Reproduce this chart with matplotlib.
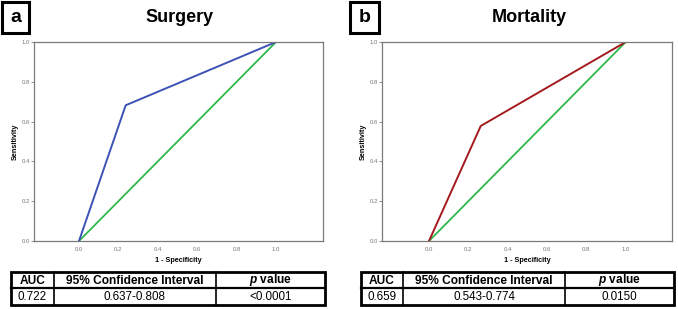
import matplotlib
matplotlib.use("Agg")
import matplotlib.pyplot as plt
from matplotlib.patches import Rectangle

plt.rcParams['font.family'] = ['Liberation Sans', 'DejaVu Sans']
plt.rcParams['mathtext.fontset'] = 'custom'
plt.rcParams['mathtext.it'] = 'Liberation Sans:italic:bold'
plt.rcParams['mathtext.rm'] = 'Liberation Sans:bold'

# ---- data ----
panel_labels = ["a", "b"]
titles = ["Surgery", "Mortality"]
fpr_surgery = [0.0, 0.237, 1.0]
tpr_surgery = [0.0, 0.682, 1.0]
fpr_mortality = [0.0, 0.263, 1.0]
tpr_mortality = [0.0, 0.578, 1.0]
ref_x = [0.0, 1.0]
ref_y = [0.0, 1.0]
ticks = [0.0, 0.2, 0.4, 0.6, 0.8, 1.0]
tick_labels = ["0.0", "0.2", "0.4", "0.6", "0.8", "1.0"]
table_header = ["AUC", "95% Confidence Interval", "$\\it{p}$ value"]
auc_values = ["0.722", "0.659"]
ci_values = ["0.637-0.808", "0.543-0.774"]
p_values = ["<0.0001", "0.0150"]

W, H = 678, 309
fig = plt.figure(figsize=(W / 100, H / 100), dpi=100)

def fx(px):
    return px / W

def fy(py):
    return 1 - py / H

curves = [(fpr_surgery, tpr_surgery, "#3d52b5"), (fpr_mortality, tpr_mortality, "#a31b1f")]
# layout per panel (pixels)
layouts = [
    dict(ax=(34, 323), x0=79, unit=197, lab=(2, 29), title_x=180,
         table=(11, 54, 216, 325)),
    dict(ax=(382, 672), x0=429, unit=196.7, lab=(350, 379), title_x=529,
         table=(361, 403, 565, 674)),
]
ax_top, ax_bot = 42, 241

for i, L in enumerate(layouts):
    l, r = L["ax"]
    ax = fig.add_axes([fx(l), fy(ax_bot), fx(r - l), (ax_bot - ax_top) / H])
    fpr, tpr, col = curves[i]
    ax.plot(ref_x, ref_y, color="#2fb84a", lw=1.3)
    ax.plot(fpr, tpr, color=col, lw=1.4)
    ax.set_xlim((l - L["x0"]) / L["unit"], (r - L["x0"]) / L["unit"])
    ax.set_ylim(0, 1)
    ax.set_xticks(ticks)
    ax.set_xticklabels(tick_labels)
    ax.set_yticks(ticks)
    ax.set_yticklabels(tick_labels)
    ax.tick_params(axis="x", length=0, labelsize=4.3, colors="#777777", pad=4)
    ax.tick_params(axis="y", length=2, width=0.6, labelsize=4.3, colors="#777777", pad=1)
    for s in ax.spines.values():
        s.set_color("#7a7a7a")
        s.set_linewidth(0.9)
    ax.set_xlabel("1 - Specificity", fontsize=5.2, fontweight="bold", labelpad=4)
    ax.set_ylabel("Sensitivity", fontsize=5.2, fontweight="bold", labelpad=2)

    # panel label box
    a0, a1 = L["lab"]
    fig.patches.append(Rectangle((fx(a0), fy(33)), fx(a1 - a0), 31 / H,
                                 transform=fig.transFigure, fill=False,
                                 edgecolor="black", linewidth=2.2))
    fig.text(fx((a0 + a1) / 2), fy(18), panel_labels[i], fontsize=14,
             fontweight="bold", ha="center", va="center")
    fig.text(fx(L["title_x"]), fy(18), titles[i], fontsize=13,
             fontweight="bold", ha="center", va="center")

    # table
    c0, c1, c2, c3 = L["table"]
    t_top, t_mid, t_bot = 272, 288, 305
    fig.patches.append(Rectangle((fx(c0), fy(t_bot)), fx(c3 - c0), (t_bot - t_top) / H,
                                 transform=fig.transFigure, fill=False,
                                 edgecolor="black", linewidth=2.0))
    fig.lines.append(plt.Line2D([fx(c0), fx(c3)], [fy(t_mid), fy(t_mid)],
                                transform=fig.transFigure, color="black", lw=1.6))
    for c in (c1, c2):
        fig.lines.append(plt.Line2D([fx(c), fx(c)], [fy(t_top), fy(t_bot)],
                                    transform=fig.transFigure, color="black", lw=1.2))
    centers = [(c0 + c1) / 2, (c1 + c2) / 2, (c2 + c3) / 2]
    for cx, txt in zip(centers, table_header):
        fig.text(fx(cx), fy((t_top + t_mid) / 2 + 0.5), txt, fontsize=8.6,
                 fontweight="bold", ha="center", va="center")
    for cx, txt in zip(centers, [auc_values[i], ci_values[i], p_values[i]]):
        fig.text(fx(cx), fy((t_mid + t_bot) / 2 + 0.5), txt, fontsize=8.4,
                 ha="center", va="center")

fig.savefig("out.png", dpi=100)
